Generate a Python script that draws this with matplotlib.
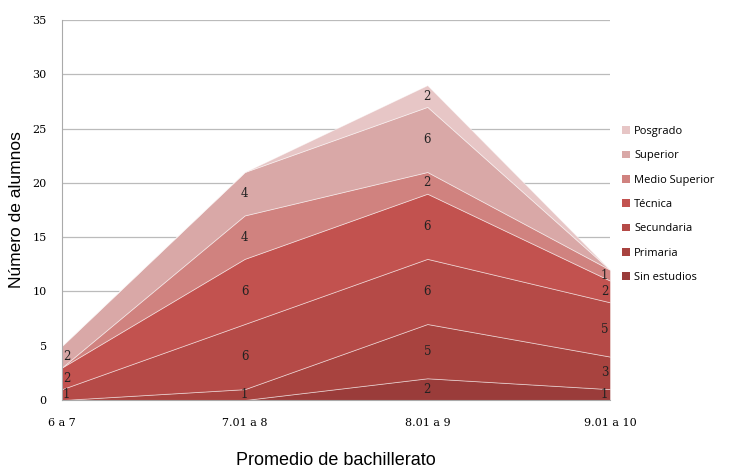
import numpy as np
import matplotlib.pyplot as plt

categorias = ["6 a 7", "7.01 a 8", "8.01 a 9", "9.01 a 10"]
series = ["Sin estudios", "Primaria", "Secundaria", "Técnica",
          "Medio Superior", "Superior", "Posgrado"]
sin_estudios = [0, 0, 2, 1]
primaria = [0, 1, 5, 3]
secundaria = [1, 6, 6, 5]
tecnica = [2, 6, 6, 2]
medio_superior = [0, 4, 2, 1]
superior = [2, 4, 6, 0]
posgrado = [0, 0, 2, 0]
colores = ["#9A3C3A", "#A8433F", "#B54A47", "#C2524F",
           "#D0827F", "#D9A8A7", "#E7C6C6"]

valores = np.array([sin_estudios, primaria, secundaria, tecnica,
                    medio_superior, superior, posgrado], dtype=float)
x = np.arange(len(categorias))

fig = plt.figure(figsize=(7.33, 4.68), dpi=100)
ax = fig.add_axes([62 / 733, 1 - 400 / 468, 548 / 733, 380 / 468])

ax.stackplot(x, valores, colors=colores, labels=series,
             edgecolor=(1, 1, 1, 0.5), linewidth=0.6)

# etiquetas de datos
acum = np.cumsum(valores, axis=0)
for i in range(valores.shape[0]):
    for j in range(len(x)):
        v = valores[i, j]
        if v == 0:
            continue
        y = acum[i, j] - v / 2
        ha = "center"
        xx = x[j]
        if j == 0:
            ha = "left"
            xx = x[j] + 0.005
        elif j == len(x) - 1:
            ha = "right"
            xx = x[j] - 0.01
        ax.text(xx, y, str(int(v)), ha=ha, va="center", fontsize=8.5,
                family="DejaVu Serif", color="#222222")

ax.set_xlim(0, 3)
ax.set_ylim(0, 35)
ax.set_yticks(range(0, 36, 5))
ax.set_xticks(x)
ax.set_xticklabels(categorias)
ax.yaxis.grid(True, color="#BBBBBB", linewidth=0.9)
ax.set_axisbelow(True)
for s in ["top", "right"]:
    ax.spines[s].set_visible(False)
ax.spines["left"].set_color("#AAAAAA")
ax.spines["bottom"].set_color("#AAAAAA")
ax.tick_params(length=0, labelsize=8)
for lab in ax.get_xticklabels() + ax.get_yticklabels():
    lab.set_family("DejaVu Serif")
ax.tick_params(axis="x", pad=13)
ax.tick_params(axis="y", pad=11)

ax.set_ylabel("Número de alumnos", fontsize=12.5, family="Liberation Sans", labelpad=6)
ax.set_xlabel("Promedio de bachillerato", fontsize=13, family="Liberation Sans", labelpad=17)

handles, labels = ax.get_legend_handles_labels()
leg = fig.legend(handles[::-1], labels[::-1], loc="upper left",
                 bbox_to_anchor=(612 / 733, 1 - 116 / 468), frameon=False,
                 handlelength=0.7, handleheight=0.7,
                 labelspacing=1.2, handletextpad=0.4,
                 prop={"family": "Open Sans", "size": 8})
for h in leg.legend_handles:
    h.set_edgecolor("none")

fig.savefig("out.png", dpi=100)
